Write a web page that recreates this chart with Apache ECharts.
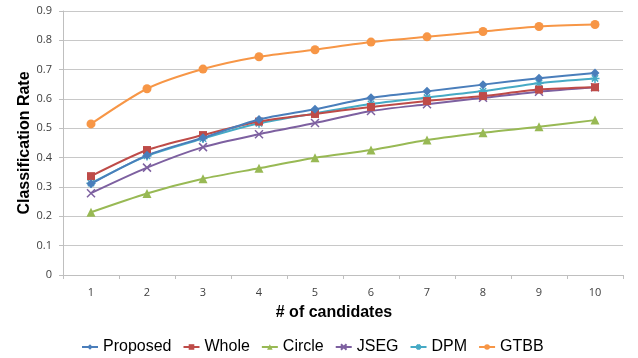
<!DOCTYPE html>
<html>
<head>
<meta charset="utf-8">
<script src="https://cdn.jsdelivr.net/npm/echarts@6/dist/echarts.min.js"></script>
<style>
html,body{margin:0;padding:0;background:#fff;}
#chart{width:638px;height:358px;}
</style>
</head>
<body>
<div id="chart"></div>
<script>
var categories = ['1','2','3','4','5','6','7','8','9','10'];
var proposed = [0.311, 0.408, 0.468, 0.530, 0.565, 0.604, 0.626, 0.649, 0.671, 0.689];
var whole    = [0.337, 0.426, 0.477, 0.523, 0.549, 0.573, 0.593, 0.610, 0.632, 0.640];
var circle   = [0.214, 0.278, 0.328, 0.364, 0.400, 0.426, 0.460, 0.485, 0.505, 0.528];
var jseg     = [0.279, 0.366, 0.436, 0.480, 0.518, 0.559, 0.582, 0.604, 0.625, 0.640];
var dpm      = [0.313, 0.406, 0.465, 0.517, 0.551, 0.583, 0.605, 0.627, 0.654, 0.670];
var gtbb     = [0.515, 0.635, 0.702, 0.744, 0.768, 0.794, 0.812, 0.830, 0.847, 0.854];
var seriesNames = ['Proposed','Whole','Circle','JSEG','DPM','GTBB'];
var yTicks = ['0','0.1','0.2','0.3','0.4','0.5','0.6','0.7','0.8','0.9'];

var colors = ['#4A7EBB','#BE4B48','#98B954','#7D60A0','#46AAC5','#F79646'];
var xPath = 'path://M0,0L10,10M10,0L0,10';
var starPath = 'path://M5,0L5,10M0,5L10,5M1.5,1.5L8.5,8.5M8.5,1.5L1.5,8.5';
var symbols = ['diamond','rect','triangle',xPath,starPath,'circle'];
var sizes = [9,8,9,8,9,9];
var datas = [proposed, whole, circle, jseg, dpm, gtbb];

var chart = echarts.init(document.getElementById('chart'));
var series = seriesNames.map(function(n,i){
  var isPath = i===3 || i===4;
  return {
    name: n,
    type: 'line',
    data: datas[i],
    smooth: 0.25,
    symbol: symbols[i],
    symbolSize: sizes[i],
    showSymbol: true,
    lineStyle: {color: colors[i], width: 2},
    itemStyle: isPath ? {color: colors[i], borderColor: colors[i], borderWidth: 1.5} : {color: colors[i], borderWidth: 0},
    z: 10 - i,
    animation: false
  };
});

chart.setOption({
  animation: false,
  textStyle: {fontFamily: 'Liberation Sans, Arial, sans-serif'},
  color: colors,
  grid: {left: 63, right: 15, top: 11, bottom: 83, containLabel: false},
  legend: {
    data: seriesNames,
    left: 76,
    top: 334,
    itemWidth: 16,
    itemHeight: 7,
    itemGap: 11,
    textStyle: {fontSize: 16, color: '#000', fontFamily: 'Liberation Sans, Arial, sans-serif'}
  },
  xAxis: {
    type: 'category',
    data: categories,
    boundaryGap: true,
    name: '# of candidates',
    nameLocation: 'middle',
    nameGap: 30,
    nameMoveOverlap: false,
    nameTextStyle: {fontSize: 16, fontWeight: 'bold', color: '#000', padding: [0, 18, 0, 0]},
    axisLine: {lineStyle: {color: '#BFBFBF', width: 1}},
    axisTick: {show: true, length: 4, lineStyle: {color: '#BFBFBF'}},
    axisLabel: {fontSize: 11, color: '#404040', margin: 12, fontFamily: 'Open Sans'}
  },
  yAxis: {
    type: 'value',
    min: 0,
    max: 0.9,
    interval: 0.1,
    name: 'Classification Rate',
    nameLocation: 'middle',
    nameGap: 30,
    nameMoveOverlap: false,
    nameRotate: 90,
    nameTextStyle: {fontSize: 16, fontWeight: 'bold', color: '#000'},
    axisLine: {show: true, lineStyle: {color: '#BFBFBF', width: 1}},
    axisTick: {show: true, length: 4, lineStyle: {color: '#BFBFBF'}},
    splitLine: {show: true, lineStyle: {color: '#C8C8C8', width: 1}},
    axisLabel: {
      fontSize: 11, color: '#404040', margin: 11, fontFamily: 'Open Sans',
      formatter: function(v){ return yTicks[Math.round(v*10)]; }
    }
  },
  series: series
});
</script>
</body>
</html>
